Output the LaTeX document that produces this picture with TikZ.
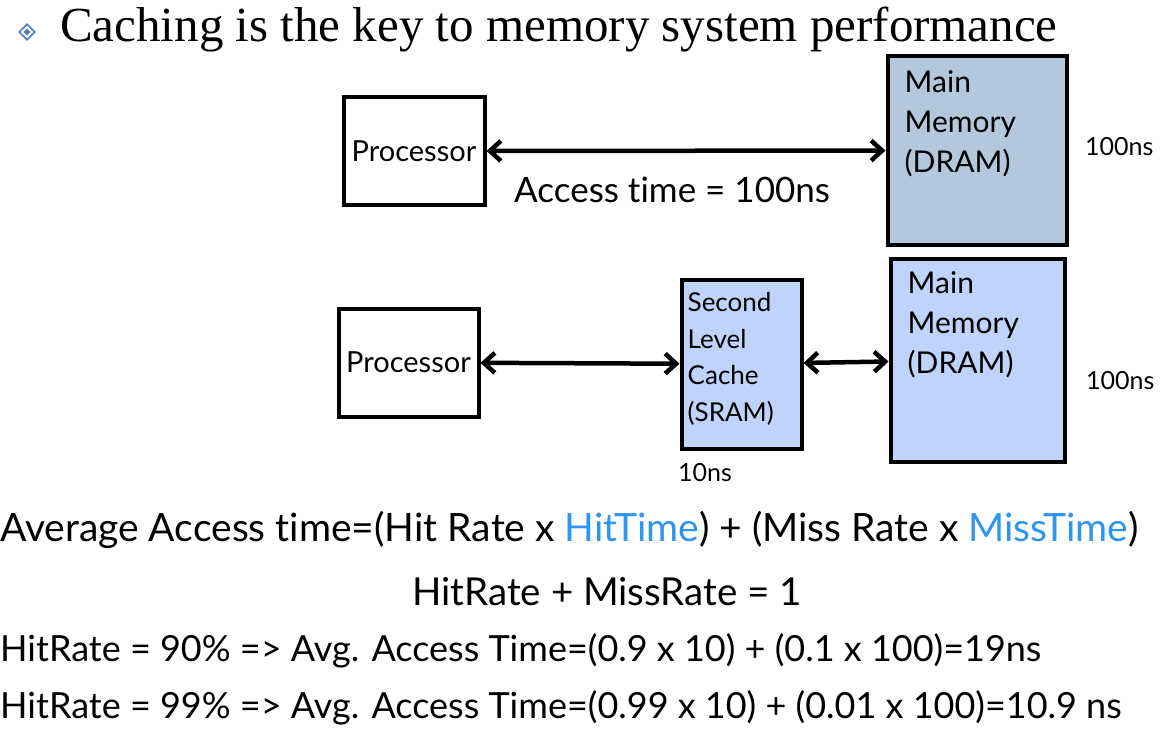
\documentclass[tikz,border=0pt]{standalone}
\usepackage{fontspec}
\setmainfont{Lato}[Ligatures=NoCommon]
\newfontfamily\titlefont{Liberation Serif}
\usetikzlibrary{arrows.meta,positioning,shapes.geometric}
\definecolor{memgray}{HTML}{B4C8DD}
\definecolor{memblue}{HTML}{C0D3FA}
\definecolor{hilite}{HTML}{2E95F0}
\definecolor{bullet}{HTML}{4A7EC0}

\tikzset{
  unit/.style={draw, line width=4pt, inner sep=0pt},
  boxtext/.style={align=left, inner sep=0pt, font=\fontsize{30}{40}\selectfont},
  lat/.style={inner sep=0pt, font=\fontsize{25}{28}\selectfont},
  eq/.style={inner sep=0pt, font=\fontsize{#1}{40}\selectfont},
  eq/.default=36,
  link/.style={line width=4.5pt, {Straight Barb[length=11pt,width=20pt]}-{Straight Barb[length=11pt,width=20pt]}}
}

\begin{document}
\begin{tikzpicture}[x=1pt, y=-1pt]
  \useasboundingbox (0,0) rectangle (1161,754);
  % title with bullet
  \node[diamond, draw=bullet, line width=1.6pt, minimum size=16pt, inner sep=0pt] (dot) at (27,32) {};
  \node[diamond, fill=bullet, minimum size=7pt, inner sep=0pt] (dotin) at (dot) {};
  \node[anchor=base west, inner sep=0pt, font=\titlefont\fontsize{49}{52}\selectfont] (title) at (60,42)
        {Caching is the key to memory system performance};
  % upper row: processor straight to DRAM
  \node[unit, minimum width=141pt, minimum height=107pt, font=\fontsize{29}{32}\selectfont] (cpuA) at (414,151) {Processor};
  \node[unit, fill=memgray, minimum width=179pt, minimum height=188pt] (memA) at (977,150.5) {};
  \node[boxtext, anchor=north west] (memAtxt) at ([xshift=19pt, yshift=-16pt]memA.north west) {Main\\Memory\\(DRAM)};
  \draw[link] (cpuA) -- (memA);
  \node[inner sep=0pt, anchor=west, font=\fontsize{35}{38}\selectfont] (acc) at (514,190) {Access time = 100ns};
  \node[lat, anchor=west] (latA) at (1085,147) {100ns};
  % lower row: processor, SRAM cache, DRAM
  \node[unit, minimum width=140pt, minimum height=108pt, font=\fontsize{29}{32}\selectfont] (cpuB) at (408.5,362.5) {Processor};
  \node[unit, fill=memblue, minimum width=120pt, minimum height=169pt] (cache) at (741.5,364) {};
  \node[align=left, inner sep=0pt, anchor=north west, font=\fontsize{26}{36.5}\selectfont] (cachetxt)
        at ([xshift=8pt, yshift=-15pt]cache.north west) {Second\\Level\\Cache\\(SRAM)};
  \node[unit, fill=memblue, minimum width=174pt, minimum height=203pt] (memB) at (977.5,360) {};
  \node[boxtext, anchor=north west] (memBtxt) at ([xshift=19pt, yshift=-15pt]memB.north west) {Main\\Memory\\(DRAM)};
  \draw[link] (cpuB) -- (cache);
  \draw[link] (cache) -- (memB);
  \node[lat, anchor=west] (latC) at (678,473) {10ns};
  \node[lat, anchor=west] (latB) at (1086,381) {100ns};
  % formulas
  \node[eq=39, anchor=west] (avg) at (0,530)
        {Average Access time=(Hit Rate x \textcolor{hilite}{HitTime}) + (Miss Rate x \textcolor{hilite}{MissTime})};
  \node[eq=38.5] (sum) at (607,592) {HitRate + MissRate = 1};
  \node[eq, anchor=west] (ex1) at (0,651) {HitRate = 90\% => Avg. Access Time=(0.9 x 10) + (0.1 x 100)=19ns};
  \node[eq, anchor=west] (ex2) at (0,708) {HitRate = 99\% => Avg. Access Time=(0.99 x 10) + (0.01 x 100)=10.9 ns};
\end{tikzpicture}
\end{document}
